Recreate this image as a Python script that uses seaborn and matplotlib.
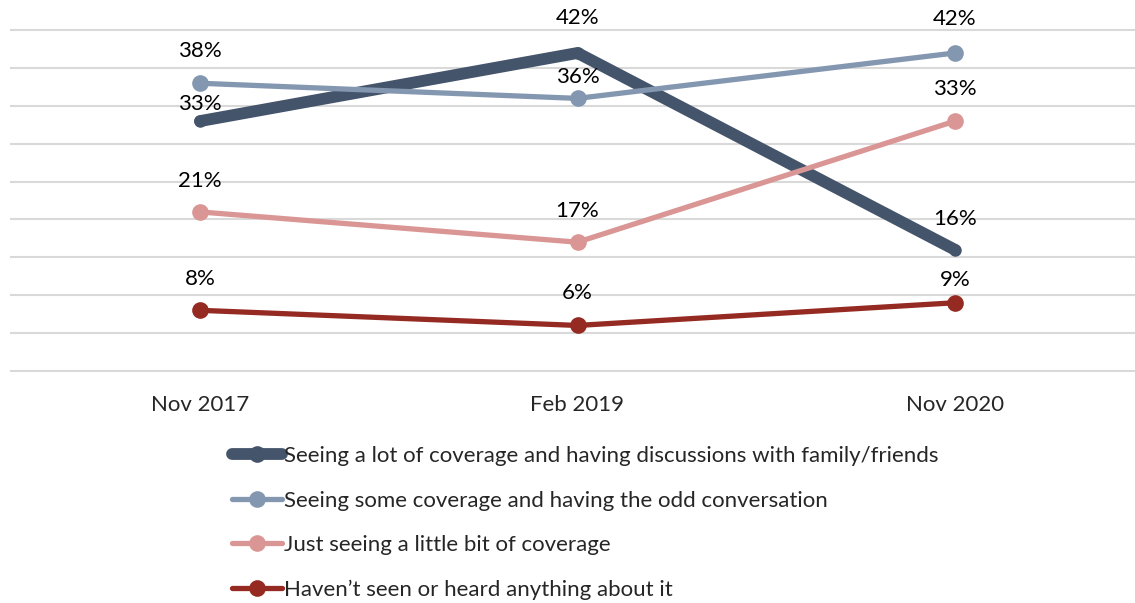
import pandas as pd
import matplotlib.pyplot as plt
import seaborn as sns

# Data
periods = ['Nov 2017', 'Feb 2019', 'Nov 2020']
series_names = ['Seeing a lot of coverage and having discussions with family/friends',
                'Seeing some coverage and having the odd conversation',
                'Just seeing a little bit of coverage',
                "Haven\u2019t seen or heard anything about it"]
a_lot = [33, 42, 16]
some = [38, 36, 42]
little = [21, 17, 33]
nothing = [8, 6, 9]

values = [a_lot, some, little, nothing]

# Styles
colors = ['#44546A', '#8497B0', '#DA9694', '#952A23']
widths = [8.5, 3.8, 3.8, 3.8]
msizes = [9, 12, 12, 12]
# label offsets above point (pixels)
label_offsets = [[17, 35, 31], [32, 21, 34], [31, 31, 32], [31, 32, 23]]

rows = []
for name, vals in zip(series_names, values):
    for p, v in zip(periods, vals):
        rows.append({'period': p, 'pct': v, 'series': name})
df = pd.DataFrame(rows)

sns.set_style('white')
plt.rcParams['font.family'] = ['Lato', 'DejaVu Sans']
FS = 16

fig = plt.figure(figsize=(11.35, 6.03), dpi=100)
W, H = 1135, 603
x0_px, step_px = 200, 377.5
left_px, right_px = 10, 1135
ax = fig.add_axes([left_px / W, 1 - 372 / H, (right_px - left_px) / W, (372 - 28) / H])

for i, name in enumerate(series_names):
    sub = df[df.series == name]
    sns.lineplot(data=sub, x='period', y='pct', color=colors[i], linewidth=widths[i],
                 marker='o', markersize=msizes[i], markeredgewidth=0, label=name, ax=ax,
                 solid_capstyle='round', zorder=3 if i == 0 else 4 - i * 0.1)

ax.set_xlim((left_px - x0_px) / step_px, (right_px - x0_px) / step_px)
ax.set_ylim(-0.15, 45.3)
ax.set_yticks(range(0, 50, 5))
ax.yaxis.grid(True, color='#D9D9D9', linewidth=1.5)
ax.set_axisbelow(True)
ax.tick_params(axis='y', left=False, labelleft=False)
ax.tick_params(axis='x', bottom=False, pad=13, labelsize=FS)
for s in ax.spines.values():
    s.set_visible(False)
ax.set_xlabel('')
ax.set_ylabel('')

# data labels
for i, vals in enumerate(values):
    for j, v in enumerate(vals):
        ax.annotate(f'{v}%', (j, v), xytext=(0, label_offsets[i][j] * 0.72),
                    textcoords='offset points', ha='center', va='center',
                    fontsize=FS, color='black')

leg = ax.legend(loc='upper left', bbox_to_anchor=(221 / W, 1 - 435 / H),
                bbox_transform=fig.transFigure, frameon=False, fontsize=FS,
                handlelength=2.25, handletextpad=0.1, labelspacing=1.1, borderpad=0)
leg.get_lines()[0].set_markersize(12)

plt.savefig('out.png', dpi=100)
